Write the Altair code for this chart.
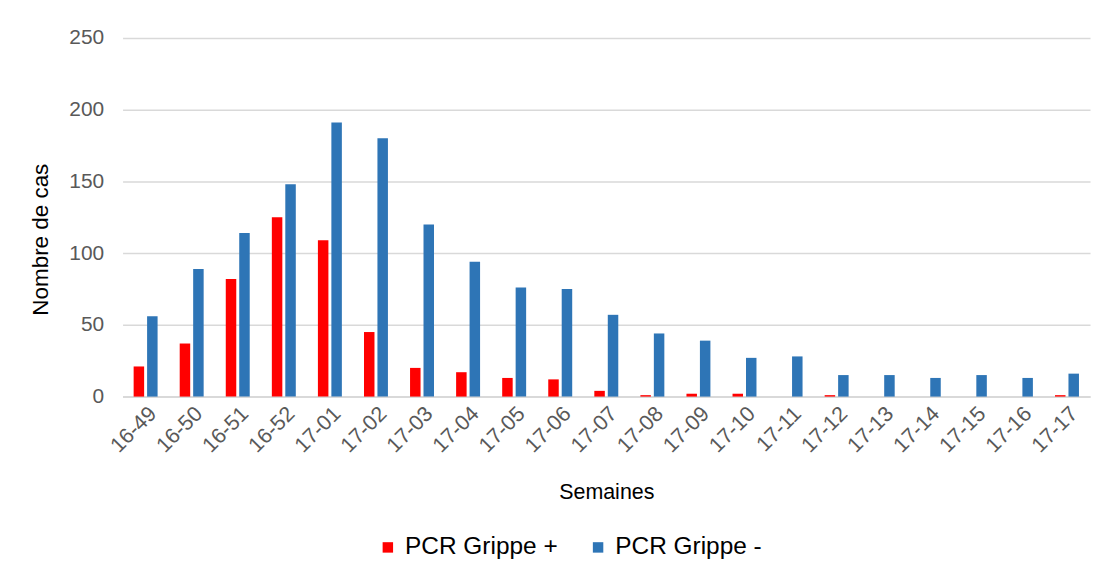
import altair as alt
import pandas as pd

weeks = ["16-49", "16-50", "16-51", "16-52", "17-01", "17-02", "17-03", "17-04",
         "17-05", "17-06", "17-07", "17-08", "17-09", "17-10", "17-11", "17-12",
         "17-13", "17-14", "17-15", "17-16", "17-17"]
pcr_pos = [21, 37, 82, 125, 109, 45, 20, 17, 13, 12, 4, 1, 2, 2, 0, 1, 0, 0, 0, 0, 1]
pcr_neg = [56, 89, 114, 148, 191, 180, 120, 94, 76, 75, 57, 44, 39, 27, 28, 15, 15, 13, 15, 13, 16]
series = ["PCR Grippe +", "PCR Grippe -"]
colors = ["#FF0000", "#2E75B6"]
y_ticks = [0, 50, 100, 150, 200, 250]

rows = []
for w, p, n in zip(weeks, pcr_pos, pcr_neg):
    rows.append({"Semaine": w, "Serie": series[0], "Cas": p})
    rows.append({"Semaine": w, "Serie": series[1], "Cas": n})
df = pd.DataFrame(rows)

FONT = "Liberation Sans"

chart = alt.Chart(df).mark_bar().encode(
    x=alt.X("Semaine:N", sort=weeks, title="Semaines",
            scale=alt.Scale(paddingInner=0.48, paddingOuter=0.24),
            axis=alt.Axis(labelAngle=-45, labelFontSize=21.5, labelColor="#595959",
                          labelFont=FONT, labelPadding=6, ticks=False,
                          domainColor="#D9D9D9", domainWidth=2,
                          titleFontSize=21.5, titleFont=FONT, titleColor="#000000",
                          titleFontWeight="normal", titlePadding=25)),
    xOffset=alt.XOffset("Serie:N", sort=series, scale=alt.Scale(paddingInner=0.22)),
    y=alt.Y("Cas:Q", scale=alt.Scale(domain=[0, 250]), title="Nombre de cas",
            axis=alt.Axis(values=y_ticks, labelFontSize=21, labelColor="#595959",
                          labelFont=FONT, labelPadding=19, ticks=False, domain=False,
                          gridColor="#D9D9D9", gridWidth=1.5,
                          titleFontSize=22.5, titleFont=FONT, titleColor="#000000",
                          titleFontWeight="normal", titlePadding=16, titleY=202)),
    color=alt.Color("Serie:N", scale=alt.Scale(domain=series, range=colors),
                    legend=alt.Legend(orient="none", direction="horizontal", title=None,
                                      legendX=254, legendY=499,
                                      symbolType="square", symbolSize=110,
                                      symbolStrokeWidth=0,
                                      labelFontSize=24.5, labelFont=FONT, labelColor="#000000",
                                      columnPadding=28, labelOffset=5)),
).properties(
    width=971, height=360,
    padding={"left": 21, "top": 18, "right": 5, "bottom": 5},
).configure_view(stroke=None)

chart.save("out.html", embed_options={"renderer": "svg", "actions": False})
